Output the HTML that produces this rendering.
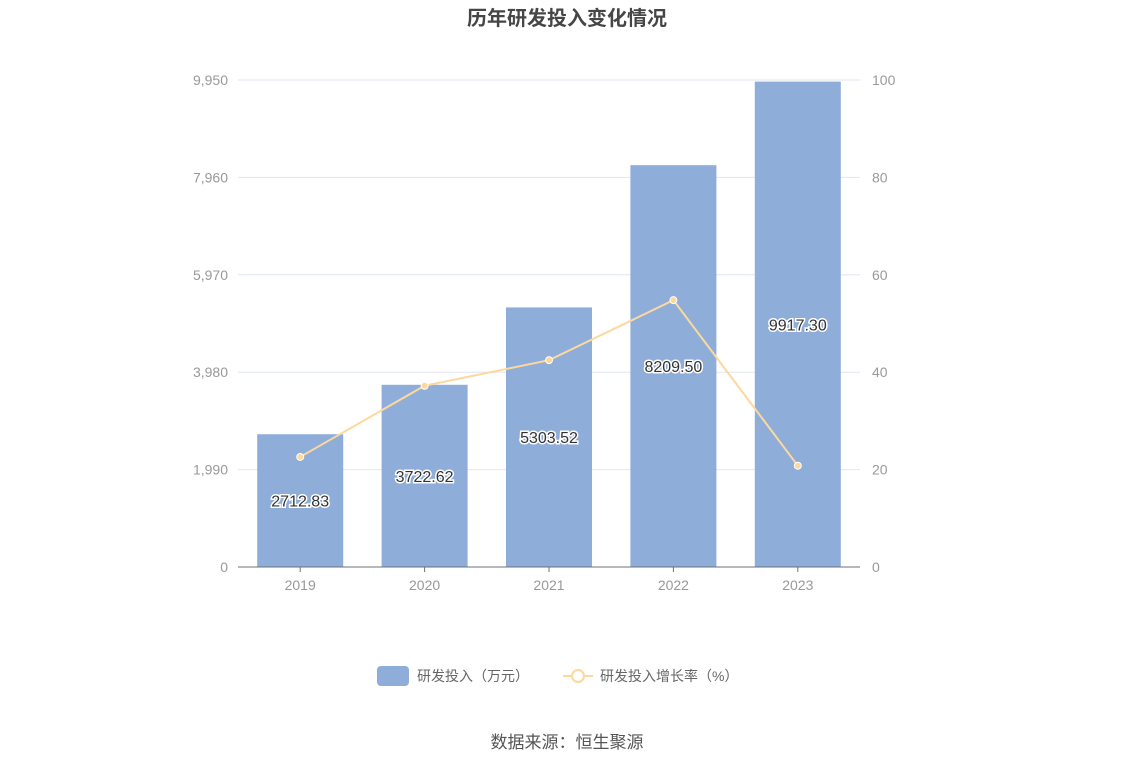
<!DOCTYPE html>
<html><head><meta charset="utf-8"><style>
body{margin:0;background:#fff;}
svg text{font-family:"Liberation Sans","Noto Sans CJK SC",sans-serif;}
</style></head><body>
<svg width="1134" height="766" viewBox="0 0 1134 766" xmlns="http://www.w3.org/2000/svg" id="chart">
<rect width="1134" height="766" fill="#fff"/>
<text x="567" y="25" text-anchor="middle" font-size="20" font-weight="bold" fill="#464646">历年研发投入变化情况</text>
<g id="grid"></g><g id="bars"></g><g id="line"></g><g id="labels"></g><g id="axes"></g>
<g>
<rect x="377" y="666" width="32" height="20" rx="4" fill="#8eadd9"/>
<text x="417" y="681" font-size="14" fill="#666">研发投入（万元）</text>
<line x1="563" y1="676" x2="593" y2="676" stroke="#fdd89d" stroke-width="2"/>
<circle cx="578" cy="676" r="6" fill="#fff" stroke="#fdd89d" stroke-width="2"/>
<text x="600" y="681" font-size="14" fill="#666">研发投入增长率（%）</text>
</g>
<text x="567" y="748" text-anchor="middle" font-size="17" fill="#555">数据来源：恒生聚源</text>
</svg>
<script>
const categories=["2019","2020","2021","2022","2023"];
const investment=[2712.83,3722.62,5303.52,8209.50,9917.30];
const growth=[22.6,37.22,42.47,54.79,20.80];
const leftTicks=[0,1990,3980,5970,7960,9950];
const rightTicks=[0,20,40,60,80,100];
const NS="http://www.w3.org/2000/svg";
const x0=238,x1=860,yTop=80,yBot=567;
const band=(x1-x0)/categories.length;
const xC=i=>x0+band*(i+0.5);
const yL=v=>yBot-(v/9950)*(yBot-yTop);
const yR=v=>yBot-(v/100)*(yBot-yTop);
function mk(tag,attrs,parent){const e=document.createElementNS(NS,tag);for(const k in attrs)e.setAttribute(k,attrs[k]);document.getElementById(parent).appendChild(e);return e;}
leftTicks.forEach((t,i)=>{
  if(i>0){const g=mk("line",{x1:x0,x2:x1,y1:yL(t),y2:yL(t),stroke:"#e0e6f1"},"grid");
  
  }
  const tx=mk("text",{x:x0-10,y:yL(t)+5,"text-anchor":"end","font-size":14,fill:"#999"},"axes");
  tx.textContent=t.toLocaleString("en-US");
  
  
});
rightTicks.forEach(t=>{
  const tx=mk("text",{x:x1+12,y:yR(t)+5,"font-size":14,fill:"#999"},"axes");
  tx.textContent=t;
  
  
});
const ax=mk("line",{x1:x0,x2:x1,y1:yBot,y2:yBot,stroke:"#6e7079"},"axes");


categories.forEach((c,i)=>{
  const bw=86;
  const b=mk("rect",{x:xC(i)-bw/2,y:yL(investment[i]),width:bw,height:yBot-yL(investment[i]),fill:"#8eadd9"},"bars");
  
  
  const tk=mk("line",{x1:xC(i),x2:xC(i),y1:yBot,y2:yBot+5,stroke:"#6e7079"},"axes");
  
  
  const tx=mk("text",{x:xC(i),y:yBot+23,"text-anchor":"middle","font-size":14,fill:"#999"},"axes");
  tx.textContent=c;
  
  
  const lb=mk("text",{x:xC(i),y:(yL(investment[i])+yBot)/2+6,"text-anchor":"middle","font-size":16,fill:"#333",stroke:"#fff","stroke-width":3,"paint-order":"stroke"},"labels");
  lb.textContent=investment[i].toFixed(2);
  
  
});
const pl=mk("polyline",{points:growth.map((g,i)=>xC(i)+","+yR(g)).join(" "),fill:"none",stroke:"#fdd89d","stroke-width":2},"line");


growth.forEach((g,i)=>{
  const p=mk("circle",{cx:xC(i),cy:yR(g),r:3.5,fill:"#fdd89d",stroke:"#fff","stroke-width":1},"line");
  
  
});
</script>
</body></html>
